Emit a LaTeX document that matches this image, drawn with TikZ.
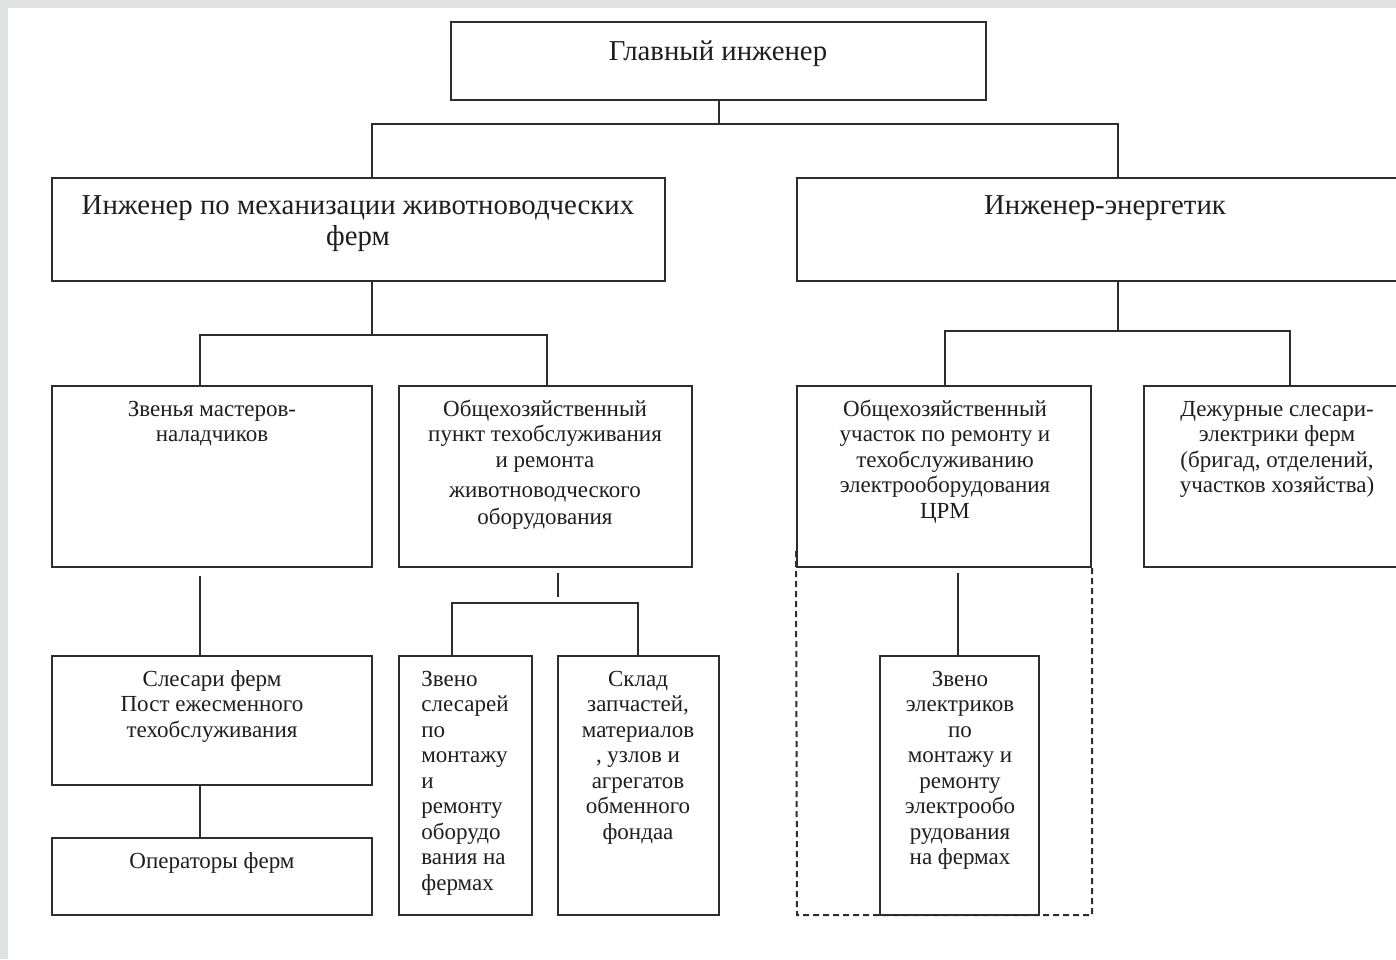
\documentclass[tikz,border=0pt]{standalone}
\usepackage{fontspec}
\setmainfont{Liberation Serif}
\usetikzlibrary{fit}
\definecolor{ln}{RGB}{45,45,45}
\definecolor{tx}{RGB}{30,30,30}
\definecolor{bgg}{RGB}{224,226,228}
\newcommand{\bstrut}{\rule{0pt}{12pt}}
\newcommand{\sstrut}{\rule{0pt}{10pt}}
\begin{document}
\begin{tikzpicture}[x=0.5pt,y=-0.5pt,
  box/.style={draw=ln,line width=1pt,inner sep=0pt},
  big/.style={font=\fontsize{14.4}{15.5}\selectfont,text=tx,align=center,inner sep=0pt,anchor=north},
  sml/.style={font=\fontsize{11.5}{12.75}\selectfont,text=tx,align=center,inner sep=0pt,anchor=north},
  wire/.style={draw=ln,line width=1pt},
  dbox/.style={draw=ln,line width=1pt,dash pattern=on 3pt off 2pt}]
\useasboundingbox (0,0) rectangle (1396,959);
\clip (0,0) rectangle (1396,959);
\fill[bgg] (0,0) rectangle (1396,959);
\fill[white] (8,8) rectangle (1400,963);

% boxes
\node[box,fit={(451,22)(986,100)}] (gl) {};
\node[box,fit={(52,178)(665,281)}] (mech) {};
\node[box,fit={(797,178)(1412,281)}] (en) {};
\node[box,fit={(52,386)(372,567)}] (zv) {};
\node[box,fit={(399,386)(692,567)}] (ph) {};
\node[box,fit={(797,386)(1091,567)}] (uch) {};
\node[box,fit={(1144,386)(1412,567)}] (dej) {};
\node[box,fit={(52,656)(372,785)}] (sl) {};
\node[box,fit={(52,838)(372,915)}] (op) {};
\node[box,fit={(399,656)(532,915)}] (zs) {};
\node[box,fit={(558,656)(719,915)}] (sk) {};
\node[box,fit={(880,656)(1039,915)}] (ze) {};

% helper coordinates
\coordinate (x200) at (200,0);
\coordinate (x372) at (372,0);
\coordinate (x452) at (452,0);
\coordinate (x547) at (547,0);
\coordinate (x558) at (558,0);
\coordinate (x638) at (638,0);
\coordinate (x945) at (945,0);
\coordinate (x958) at (958,0);
\coordinate (x1118) at (1118,0);
\coordinate (x1290) at (1290,0);
\coordinate (b1) at (718.5,124);
\coordinate (b2) at (372,335);
\coordinate (b3) at (1118,331);
\coordinate (s1) at (558,597);
\coordinate (b4) at (558,603);

% connectors
\draw[wire] (gl.south) -- (b1);
\draw[wire] (mech.north -| x372) |- (b1) -| (en.north -| x1118);
\draw[wire] (mech.south -| x372) -- (b2);
\draw[wire] (zv.north -| x200) |- (b2) -| (ph.north -| x547);
\draw[wire] (en.south -| x1118) -- (b3);
\draw[wire] (uch.north -| x945) |- (b3) -| (dej.north -| x1290);
\draw[wire,shorten <=4pt] (zv.south -| x200) -- (sl.north -| x200);
\draw[wire] (sl.south -| x200) -- (op.north -| x200);
\draw[wire,shorten <=2.5pt] (ph.south -| x558) -- (s1);
\draw[wire] (zs.north -| x452) |- (b4) -| (sk.north -| x638);
\draw[wire,shorten <=2.5pt] (uch.south -| x958) -- (ze.north -| x958);

% dashed frame
\draw[dbox] (uch.south west) ++(0,-17) -- (797,915) -- (1092,915) -- (1092,567);

% texts
\node[big] (tgl) at (718,36) {\bstrut Главный инженер};
\node[big] (tmech) at (358,190) {\bstrut Инженер по механизации животноводческих\\ферм};
\node[big] (ten) at (1105,190) {\bstrut Инженер-энергетик};
\node[sml] (tzv) at (212,396) {\sstrut Звенья мастеров-\\наладчиков};
\node[sml] (tph) at (545,396) {\sstrut Общехозяйственный\\пункт техобслуживания\\и ремонта\\[2.25pt]животноводческого\\[0.75pt]оборудования};
\node[sml] (tuch) at (945,396) {\sstrut Общехозяйственный\\участок по ремонту и\\техобслуживанию\\электрооборудования\\ЦРМ};
\node[sml] (tdej) at (1277,396) {\sstrut Дежурные слесари-\\электрики ферм\\(бригад, отделений,\\участков хозяйства)};
\node[sml] (tsl) at (212,666) {\sstrut Слесари ферм\\Пост ежесменного\\техобслуживания};
\node[sml] (top) at (212,848) {\sstrut Операторы ферм};
\node[sml,align=left,anchor=north west] (tzs) at (421,666) {\sstrut Звено\\слесарей\\по\\монтажу\\и\\ремонту\\оборудо\\вания на\\фермах};
\node[sml] (tsk) at (638,666) {\sstrut Склад\\запчастей,\\материалов\\, узлов и\\агрегатов\\обменного\\фондаа};
\node[sml] (tze) at (960,666) {\sstrut Звено\\электриков\\по\\монтажу и\\ремонту\\электрообо\\рудования\\на фермах};
\end{tikzpicture}
\end{document}
